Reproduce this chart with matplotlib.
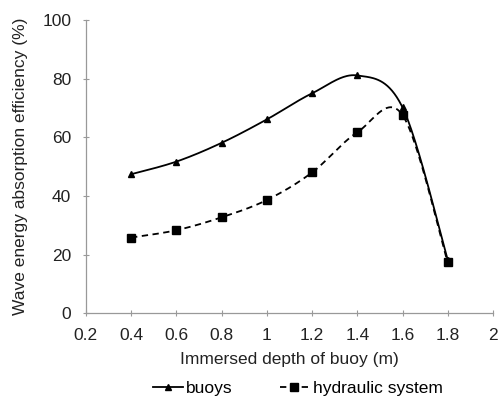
import matplotlib.pyplot as plt
import numpy as np

plt.rcParams['font.family'] = ['Liberation Sans', 'DejaVu Sans']

depth = [0.4, 0.6, 0.8, 1.0, 1.2, 1.4, 1.6, 1.8]
buoys = [47.4, 51.7, 58.1, 66.1, 75.0, 81.1, 70.2, 18.2]
hydraulic = [25.8, 28.3, 32.7, 38.6, 48.0, 61.7, 67.6, 17.3]

xticks = [0.2, 0.4, 0.6, 0.8, 1, 1.2, 1.4, 1.6, 1.8, 2]
xticklabels = ['0.2', '0.4', '0.6', '0.8', '1', '1.2', '1.4', '1.6', '1.8', '2']
yticks = [0, 20, 40, 60, 80, 100]


def smooth(x, y, n=40):
    # excel-like smoothed line: bezier segments with catmull-rom control points
    x = np.asarray(x, float)
    y = np.asarray(y, float)
    xs, ys = [], []
    for i in range(len(x) - 1):
        i0 = max(i - 1, 0)
        i3 = min(i + 2, len(x) - 1)
        p0 = np.array([x[i], y[i]])
        p3 = np.array([x[i + 1], y[i + 1]])
        p1 = p0 + (np.array([x[i + 1], y[i + 1]]) - np.array([x[i0], y[i0]])) / 6
        p2 = p3 - (np.array([x[i3], y[i3]]) - np.array([x[i], y[i]])) / 6
        t = np.linspace(0, 1, n)[:, None]
        pts = ((1 - t) ** 3) * p0 + 3 * ((1 - t) ** 2) * t * p1 + 3 * (1 - t) * t ** 2 * p2 + t ** 3 * p3
        xs.extend(pts[:, 0])
        ys.extend(pts[:, 1])
    return xs, ys


fig = plt.figure(figsize=(4.99, 4.01), dpi=100)
ax = fig.add_axes([0.172, 0.219, 0.816, 0.731])

sx, sy = smooth(depth, buoys)
l1, = ax.plot(sx, sy, color='black', lw=1.3)
m1, = ax.plot(depth, buoys, ls='none', marker='^', ms=5, color='black')

sx, sy = smooth(depth, hydraulic)
l2, = ax.plot(sx, sy, color='black', lw=1.3, dashes=(3.5, 2.5))
m2, = ax.plot(depth, hydraulic, ls='none', marker='s', ms=5.5, color='black')

ax.set_xlim(0.2, 2)
ax.set_ylim(0, 100)
ax.set_xticks(xticks)
ax.set_xticklabels(xticklabels)
ax.set_yticks(yticks)

for s in ['top', 'right']:
    ax.spines[s].set_visible(False)
for s in ['left', 'bottom']:
    ax.spines[s].set_color('#999999')
    ax.spines[s].set_linewidth(0.9)
ax.tick_params(direction='inout', length=5, width=0.8, color='#999999',
               labelsize=12.5, labelcolor='#222222', pad=8)

ax.set_xlabel('Immersed depth of buoy (m)', fontsize=12.5, color='#222222', labelpad=7)
ax.set_ylabel('Wave energy absorption efficiency (%)', fontsize=12.5, color='#222222', labelpad=10)

fig.legend([(l1, m1), (l2, m2)], ['buoys', 'hydraulic system'],
           loc='lower center', bbox_to_anchor=(0.597, -0.018), ncol=2, frameon=False,
           fontsize=12.5, handlelength=1.7, handletextpad=0.2, columnspacing=2.7,
           borderpad=0.2)

plt.savefig('out.png', dpi=100)
